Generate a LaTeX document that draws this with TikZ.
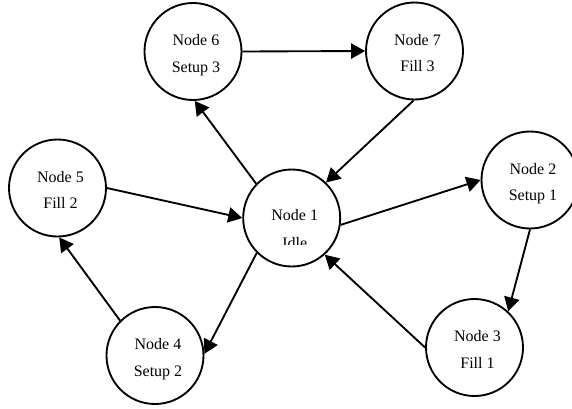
\documentclass[tikz,border=0pt]{standalone}
\usepackage{fontspec}
\setmainfont{Liberation Serif}
\usetikzlibrary{arrows.meta}
\begin{document}
\begin{tikzpicture}[x=0.75pt,y=-0.75pt,
  state/.style={circle,draw,line width=1.4pt,minimum size=72.75pt,inner sep=0pt},
  lbl/.style={anchor=base,inner sep=0pt,font=\fontsize{12pt}{14pt}\selectfont},
  edge/.style={line width=1.4pt,-{Triangle[length=10.5pt,width=11.5pt]}}]
\useasboundingbox (0,0) rectangle (572,408);
\clip (0,0) rectangle (572,408);

% states
\node[state] (n1) at (291.7,218) {};
\node[state] (n2) at (530,180) {};
\node[state] (n3) at (474.5,347.5) {};
\node[state] (n4) at (155,355.5) {};
\node[state] (n5) at (57.5,188) {};
\node[state] (n6) at (193,51.5) {};
\node[state] (n7) at (414.5,51) {};

% state labels
\node[lbl] (t1a) at (294.7,220.5) {Node 1};
\begin{scope}
  % the second line of the idle state is cut off at the bottom
  \clip (240,200) rectangle (340,244.3);
  \node[lbl] (t1b) at (294.7,248) {Idle};
\end{scope}
\node[lbl] (t2a) at (533,174) {Node 2};
\node[lbl] (t2b) at (533,200.5) {Setup 1};
\node[lbl] (t3a) at (477.5,341.5) {Node 3};
\node[lbl] (t3b) at (477.5,368) {Fill 1};
\node[lbl] (t4a) at (158,349.5) {Node 4};
\node[lbl] (t4b) at (158,376) {Setup 2};
\node[lbl] (t5a) at (60.5,182) {Node 5};
\node[lbl] (t5b) at (60.5,208.5) {Fill 2};
\node[lbl] (t6a) at (196,45.5) {Node 6};
\node[lbl] (t6b) at (196,72) {Setup 3};
\node[lbl] (t7a) at (417.5,45) {Node 7};
\node[lbl] (t7b) at (417.5,71.5) {Fill 3};

% transitions
\draw[edge] (n1.136) -- (n6.-88);
\draw[edge] (n6.0) -- (n7.180);
\draw[edge] (n7.-91) -- (n1.46);
\draw[edge] (n1.-8) -- (n2.180);
\draw[edge] (n2.-90) -- (n3.47);
\draw[edge] (n3.180) -- (n1.-48);
\draw[edge] (n1.-135) -- (n4.2);
\draw[edge] (n4.135) -- (n5.-88);
\draw[edge] (n5.0) -- (n1.180);
\end{tikzpicture}
\end{document}
